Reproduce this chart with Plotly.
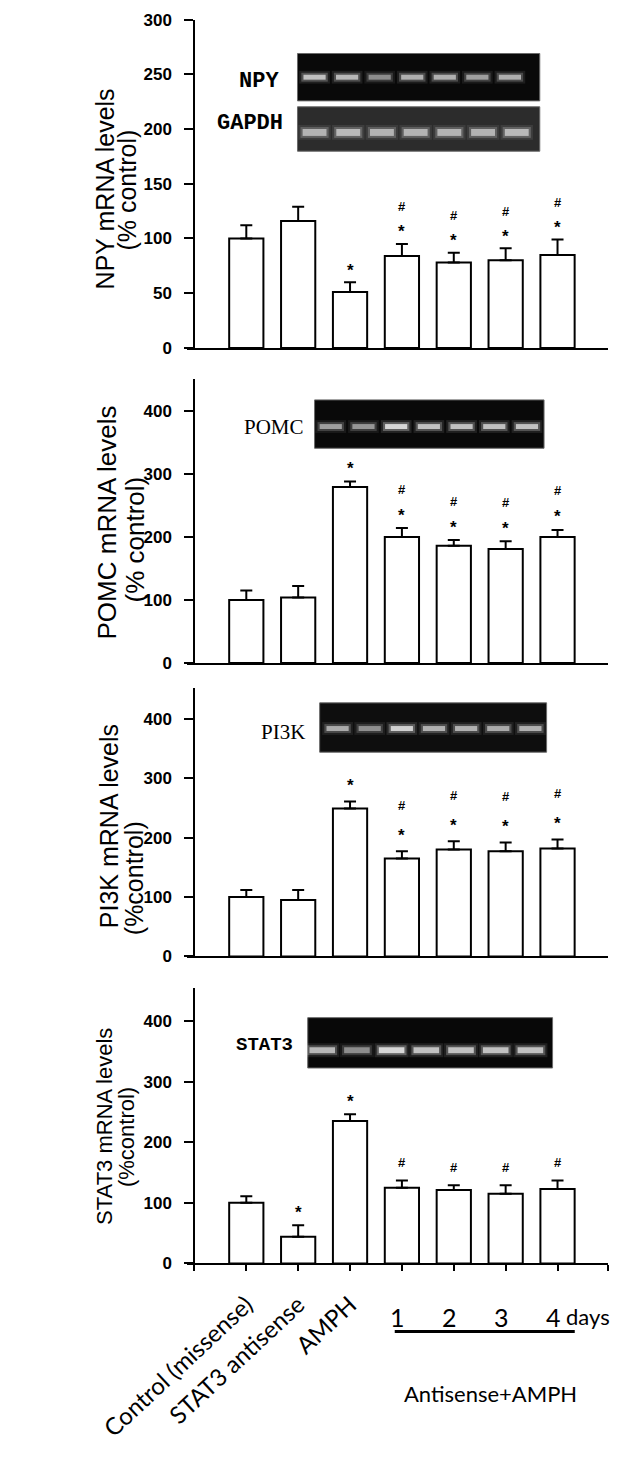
import plotly.graph_objects as go

# ---------------- data ----------------
positions = [1, 2, 3, 4, 5, 6, 7]
tick_labels = ["Control (missense)", "STAT3 antisense", "AMPH", "", "", "", ""]
day_labels = ["1", "2", "3", "4"]
group_label = "Antisense+AMPH"

npy_mean = [100, 116, 51, 84, 78, 80, 85]
npy_sem = [12, 13, 9, 11, 9, 11, 14]
npy_sig = ["", "", "*", "#*", "#*", "#*", "#*"]

pomc_mean = [100, 104, 279, 200, 186, 181, 200]
pomc_sem = [15, 18, 9, 14, 9, 12, 11]
pomc_sig = ["", "", "*", "#*", "#*", "#*", "#*"]

pi3k_mean = [100, 95, 249, 165, 180, 177, 182]
pi3k_sem = [12, 17, 12, 12, 14, 15, 15]
pi3k_sig = ["", "", "*", "#*", "#*", "#*", "#*"]

stat3_mean = [100, 44, 235, 125, 121, 115, 123]
stat3_sem = [11, 19, 11, 12, 8, 14, 14]
stat3_sig = ["", "*", "*", "#", "#", "#", "#"]

# gel band brightness per lane (visual)
npy_band = [0.85, 0.8, 0.55, 0.75, 0.75, 0.65, 0.75]
gapdh_band = [0.7, 0.75, 0.7, 0.7, 0.7, 0.7, 0.75]
pomc_band = [0.65, 0.6, 1.0, 0.85, 0.85, 0.85, 0.85]
pi3k_band = [0.7, 0.55, 0.95, 0.75, 0.75, 0.7, 0.75]
stat3_band = [0.8, 0.55, 1.0, 0.85, 0.85, 0.85, 0.85]

# ---------------- geometry helpers ----------------
PAGE_W, PAGE_H = 622, 1460
BODY = 8  # default page margin around the plot div
W, H = PAGE_W - 2 * BODY, PAGE_H - 2 * BODY


def X(px):
    return (px - BODY) / W


def Y(py):
    return 1 - (py - BODY) / H


BAR1_PX, STEP_PX = 183, 60.8
XL_PX, XR_PX = 114, 607
YAXIS_PX = 122


def u(px):
    return 1 + (px - BAR1_PX) / STEP_PX


x_range = [u(XL_PX), u(XR_PX)]

panels = [
    dict(mean=npy_mean, sem=npy_sem, sig=npy_sig, y0=343.3, rng=[0, 300],
         ticks=[0, 50, 100, 150, 200, 250, 300], star=17, hash=37,
         t1="NPY mRNA levels", t2="(% control)", t1x=17, t2x=43, t1y=182, t2y=183, tsize=25),
    dict(mean=pomc_mean, sem=pomc_sem, sig=pomc_sig, y0=662.7, rng=[0, 450],
         ticks=[0, 100, 200, 300, 400], star=18, hash=39,
         t1="POMC mRNA levels", t2="(% control)", t1x=20, t2x=53, t1y=520, t2y=537, tsize=26),
    dict(mean=pi3k_mean, sem=pi3k_sem, sig=pi3k_sig, y0=960, rng=[0, 452],
         ticks=[0, 100, 200, 300, 400], star=21, hash=46,
         t1="PI3K mRNA levels", t2="(%control)", t1x=22, t2x=51, t1y=828, t2y=881, tsize=25),
    dict(mean=stat3_mean, sem=stat3_sem, sig=stat3_sig, y0=1271, rng=[0, 455],
         ticks=[0, 100, 200, 300, 400], star=18, hash=40,
         t1="STAT3 mRNA levels", t2="(%control)", t1x=17, t2x=42, t1y=1132, t2y=1143, tsize=22),
]
panel_tops = [10.7, 375, 688, 991.7]

fig = go.Figure()
layout = dict(width=W, height=H, margin=dict(l=0, r=0, t=0, b=0),
              paper_bgcolor="white", plot_bgcolor="white", showlegend=False)
annotations = []
shapes = []

for i, p in enumerate(panels):
    n = "" if i == 0 else str(i + 1)
    xa, ya = "x" + n, "y" + n
    fig.add_trace(go.Bar(
        x=positions, y=p["mean"], width=0.66, xaxis=xa, yaxis=ya,
        marker=dict(color="white", line=dict(color="black", width=2)),
        error_y=dict(type="data", array=p["sem"], arrayminus=[0] * len(p["sem"]),
                     symmetric=False, color="black", thickness=2, width=6),
        hoverinfo="skip"))
    last = i == 3
    layout["xaxis" + n] = dict(
        domain=[X(XL_PX), X(XR_PX)], range=x_range, anchor=ya,
        showline=True, linecolor="black", linewidth=2, showgrid=False, zeroline=False,
        ticks="outside" if last else "", ticklen=6, tickwidth=2, tickcolor="black",
        tickvals=([u(YAXIS_PX)] + positions + [u(XR_PX) - 0.01]) if last else [],
        ticktext=([""] + tick_labels + [""]) if last else [],
        tickangle=-43, ticklabelstandoff=10, ticklabeloverflow="allow",
        tickfont=dict(family="Lato", size=24, color="black"))
    layout["yaxis" + n] = dict(
        domain=[Y(p["y0"]), Y(panel_tops[i])], range=p["rng"], anchor="free",
        position=X(YAXIS_PX), showline=True, linecolor="black", linewidth=2,
        showgrid=False, zeroline=False, ticks="outside", ticklen=9, tickwidth=2,
        tickcolor="black", tickvals=p["ticks"], ticklabelstandoff=9,
        ticklabeloverflow="allow",
        tickfont=dict(family="Liberation Sans", size=17, color="black", weight="bold"))
    # y titles
    for txt, tx, ty in ((p["t1"], p["t1x"], p["t1y"]), (p["t2"], p["t2x"], p["t2y"])):
        annotations.append(dict(text=txt, x=X(tx), y=Y(ty), xref="paper", yref="paper",
                                textangle=-90, showarrow=False, xanchor="center", yanchor="middle",
                                font=dict(family="Liberation Sans", size=p["tsize"], color="black")))
    # significance marks
    for xp, m, s, sg in zip(positions, p["mean"], p["sem"], p["sig"]):
        if not sg:
            continue
        marks = list(sg)
        if len(marks) == 1:
            offs = [(marks[0], p["star"])]
        else:
            offs = [("#", p["hash"]), ("*", p["star"])]
        for ch, off in offs:
            annotations.append(dict(text=ch, x=xp, y=m + s, xref=xa, yref=ya, showarrow=False,
                                    yshift=off - (5 if ch == "*" else 0), xanchor="center",
                                    yanchor="middle",
                                    font=dict(family="Liberation Sans", size=17 if ch == "*" else 13,
                                              color="black", weight="bold")))

# ---------------- gels ----------------
gels = [
    dict(x0=243, x1=527, y0=45, y1=93, bg="#090909", l0=263, l1=492, by=69, bw=26, bh=5, inten=npy_band),
    dict(x0=243, x1=527, y0=99, y1=144, bg="#2c2c2c", l0=263, l1=500, by=125, bw=28, bh=7, inten=gapdh_band),
    dict(x0=263, x1=532, y0=396, y1=445, bg="#090909", l0=282, l1=512, by=423, bw=26, bh=5, inten=pomc_band),
    dict(x0=269, x1=535, y0=703, y1=753, bg="#0e0e0e", l0=290, l1=516, by=729, bw=26, bh=5, inten=pi3k_band),
    dict(x0=255, x1=542, y0=1022, y1=1073, bg="#080808", l0=272, l1=516, by=1055, bw=30, bh=6, inten=stat3_band),
]
for g in gels:
    shapes.append(dict(type="rect", xref="paper", yref="paper", x0=X(g["x0"]), x1=X(g["x1"]),
                       y0=Y(g["y1"]), y1=Y(g["y0"]), fillcolor=g["bg"],
                       line=dict(color="#6a6a6a", width=1), layer="above"))
    nl = len(g["inten"])
    for k, inten in enumerate(g["inten"]):
        cx = g["l0"] + (g["l1"] - g["l0"]) * k / (nl - 1)
        for grow, alpha in ((10, 0.12), (5, 0.3), (0, 0.85)):
            w = g["bw"] + grow
            h = g["bh"] + grow * 0.8
            shapes.append(dict(type="rect", xref="paper", yref="paper",
                               x0=X(cx - w / 2), x1=X(cx + w / 2),
                               y0=Y(g["by"] + h / 2), y1=Y(g["by"] - h / 2),
                               fillcolor="rgba(235,235,235,%.3f)" % (alpha * inten),
                               line=dict(width=0), layer="above"))

gel_labels = [("NPY", 198, 73, "Liberation Mono", 22, "bold"),
              ("GAPDH", 187, 116, "Liberation Mono", 22, "bold"),
              ("POMC", 215, 423, "Liberation Serif", 21, "normal"),
              ("PI3K", 226, 733, "Liberation Serif", 21, "normal"),
              ("STAT3", 204, 1050, "Liberation Mono", 19, "bold")]
for txt, gx, gy, fam, fs, wt in gel_labels:
    annotations.append(dict(text=txt, x=X(gx), y=Y(gy), xref="paper", yref="paper", showarrow=False,
                            xanchor="center", yanchor="middle",
                            font=dict(family=fam, size=fs, color="black", weight=wt)))

# ---------------- bottom group labels ----------------
for xp, d in zip(positions[3:], day_labels):
    annotations.append(dict(text=d, x=xp, y=Y(1325), xref="x4", yref="paper", showarrow=False,
                            xshift=-4, xanchor="center", yanchor="middle",
                            font=dict(family="Lato", size=25, color="black")))
annotations.append(dict(text="days", x=X(612), y=Y(1325), xref="paper", yref="paper", showarrow=False,
                        xanchor="right", yanchor="middle", font=dict(family="Lato", size=22, color="black")))
annotations.append(dict(text=group_label, x=X(469), y=Y(1403), xref="paper", yref="paper",
                        showarrow=False, xanchor="center", yanchor="middle",
                        font=dict(family="Lato", size=22, color="black")))
shapes.append(dict(type="line", xref="paper", yref="paper", x0=X(357), x1=X(568), y0=Y(1340), y1=Y(1340),
                   line=dict(color="black", width=3)))

layout["annotations"] = annotations
layout["shapes"] = shapes
fig.update_layout(**layout)
fig.write_html("out.html")
